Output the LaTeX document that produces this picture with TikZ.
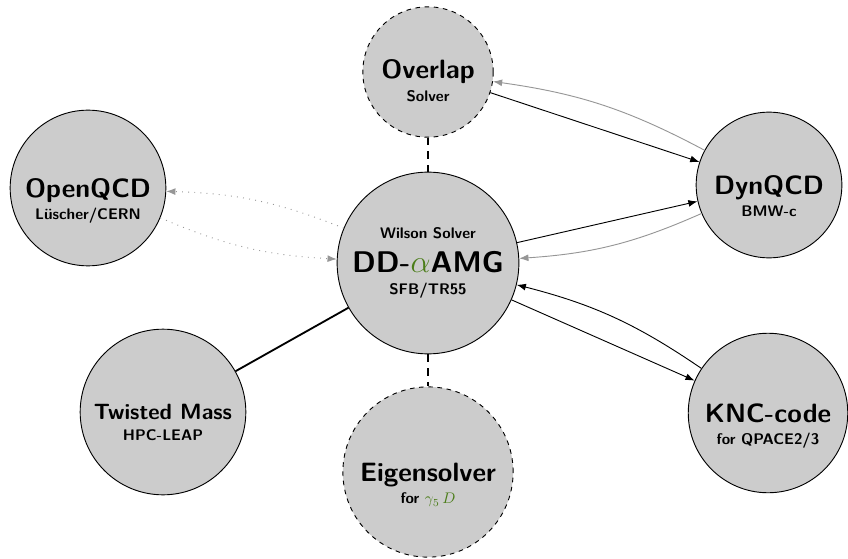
\documentclass[tikz,border=0pt]{standalone}
\usepackage{amsmath,amssymb}
\usepackage{tikz}
\usetikzlibrary{arrows.meta}
\usepackage{xcolor}
\definecolor{nodegray}{RGB}{204,204,204}
\definecolor{linkgray}{RGB}{150,150,150}
\definecolor{accgreen}{RGB}{75,125,25}

\begin{document}
\begin{tikzpicture}[x=0.652pt, y=-0.652pt,
    proj/.style={circle, draw=black, semithick, fill=nodegray, inner sep=0pt,
      align=center, font=\sffamily\bfseries\normalsize},
    lead/.style={text height=44pt, text depth=3.4pt},
    plan/.style={proj, dashed},
    link/.style={semithick, -{Latex[length=6pt, width=4.5pt]}},
    back/.style={link, linkgray},
    ext/.style={back, dash pattern=on 0.6pt off 3.4pt}]
  \useasboundingbox (0,0) rectangle (848,558);

  % Core solver
  \node[proj, minimum size=118.5pt] (dd) at (428,263)
    {Wilson Solver\\[7pt]
     {\fontsize{19.5pt}{23pt}\selectfont DD-\textcolor{accgreen}{$\alpha$}AMG}\\[2pt]
     SFB/TR55};

  % Planned solvers
  \node[plan, minimum size=85pt, text height=42pt, text depth=3.4pt] (ovl) at (428,72)
    {{\LARGE Overlap}\\[3pt] Solver};
  \node[plan, minimum size=111pt, text height=45pt, text depth=3.4pt] (eig) at (428,472)
    {{\LARGE Eigensolver}\\[2.8pt] for \textcolor{accgreen}{$\gamma_5\,D$}};

  % Codes using the solver
  \node[proj, lead, minimum size=101.5pt] (oqcd) at (88,188) {{\LARGE OpenQCD}\\[2.3pt] Lüscher/CERN};
  \node[proj, lead, minimum size=95pt] (dyn) at (769,185) {{\LARGE DynQCD}\\[2.3pt] BMW-c};
  \node[proj, minimum size=108pt, text height=40.4pt, text depth=3.4pt] (twm) at (163,412)
    {{\Large Twisted Mass}\\[1.5pt] HPC-LEAP};
  \node[proj, lead, minimum size=104pt] (knc) at (768,413) {{\LARGE KNC-code}\\[2.3pt] for QPACE2/3};

  % Connections
  \draw[very thick, dash pattern=on 5pt off 4pt] (ovl) -- (dd);
  \draw[very thick, dash pattern=on 5pt off 4pt] (dd) -- (eig);
  \draw[very thick] (twm) -- (dd);
  \draw[ext] (dd) to[bend right=10] (oqcd);
  \draw[ext] (oqcd) to[bend right=10] (dd);
  \draw[link] (ovl) -- (dyn);
  \draw[back] (dyn) to[bend right=10] (ovl);
  \draw[link] (dd) -- (dyn);
  \draw[back] (dyn) to[bend left=10] (dd);
  \draw[link] (dd) -- (knc);
  \draw[link] (knc) to[bend right=10] (dd);
\end{tikzpicture}
\end{document}
